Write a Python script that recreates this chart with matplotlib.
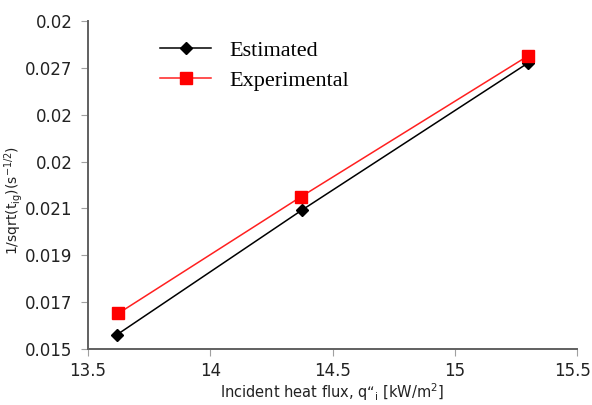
import matplotlib
matplotlib.use("Agg")
import matplotlib.pyplot as plt
from matplotlib.transforms import ScaledTranslation

heat_flux_est = [13.617, 14.375, 15.30]
est_values = [0.0156, 0.02093, 0.02721]
heat_flux_exp = [13.624, 14.37, 15.301]
exp_values = [0.01652, 0.02149, 0.02752]

x_ticks = [13.5, 14, 14.5, 15, 15.5]
x_tick_labels = ["13.5", "14", "14.5", "15", "15.5"]
y_ticks = [0.015, 0.017, 0.019, 0.021, 0.023, 0.025, 0.027, 0.029]
y_tick_labels = ["0.015", "0.017", "0.019", "0.021", "0.02", "0.02", "0.027", "0.02"]

fig = plt.figure(figsize=(5.92, 4.05), dpi=100)
ax = fig.add_axes([88/592, 1-349/405, (577-88)/592, (349-21)/405])

ax.plot(heat_flux_est, est_values, color="black", lw=1.1, marker="D",
        markersize=6.5, label="Estimated")
ax.plot(heat_flux_exp, exp_values, color="#ff2020", lw=1.1, marker="s",
        markersize=8.5, markerfacecolor="#ff0000", markeredgecolor="#ff0000",
        label="Experimental")

ax.set_xlim(13.5, 15.5)
ax.set_ylim(0.015, 0.029)
ax.set_xticks(x_ticks)
ax.set_xticklabels(x_tick_labels)
ax.set_yticks(y_ticks)
ax.set_yticklabels(y_tick_labels)

for s in ["top", "right"]:
    ax.spines[s].set_visible(False)
for s in ["left", "bottom"]:
    ax.spines[s].set_color("#606060")
    ax.spines[s].set_linewidth(1.4)
ax.tick_params(axis="both", direction="out", length=5, width=0.8,
               color="#a0a0a0", labelsize=12, labelcolor="#222222")
ax.tick_params(axis="x", pad=4)
ax.tick_params(axis="y", pad=6)

last = ax.get_xticklabels()[-1]
last.set_transform(last.get_transform() + ScaledTranslation(-4/100, 0, fig.dpi_scale_trans))

ax.set_xlabel("Incident heat flux, q\u201c$_\\mathregular{i}$ [kW/m$^\\mathregular{2}$]",
              fontsize=10.5, color="#222222", va="center")
ax.xaxis.set_label_coords((332-88)/489, (349-392)/328)
ax.set_ylabel("1/sqrt(t$_\\mathregular{ig}$)(s$^\\mathregular{-1/2}$)",
              fontsize=10, color="#222222", va="center")
ax.yaxis.set_label_coords((14-88)/489, (349-200)/328)

leg = ax.legend(loc="upper left", bbox_to_anchor=(0.107, 1.003), frameon=False,
                prop={"family": "Liberation Serif", "size": 16},
                handlelength=2.3, labelspacing=0.45, handletextpad=0.8)

fig.savefig("out.png", dpi=100)
